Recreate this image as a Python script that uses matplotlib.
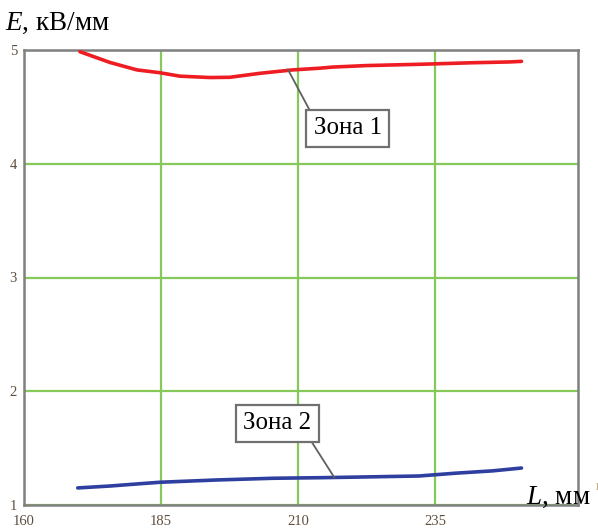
import matplotlib
matplotlib.use("Agg")
import matplotlib.pyplot as plt

# Zone 1 (red) and zone 2 (blue) field strength vs length
L_zone1 = [170.2, 175.7, 180.6, 184.8, 188.4, 193.9, 197.5, 203.0, 209.0, 213.9,
           216.3, 222.4, 232.6, 241.8, 248.5, 250.7]
E_zone1 = [4.985, 4.89, 4.825, 4.80, 4.77, 4.758, 4.76, 4.795, 4.825, 4.84,
           4.85, 4.863, 4.875, 4.888, 4.895, 4.90]

L_zone2 = [169.8, 175.7, 180.6, 184.8, 195.1, 205.4, 213.9, 220.3, 232.0,
           238.8, 245.4, 250.7]
E_zone2 = [1.15, 1.167, 1.185, 1.20, 1.22, 1.235, 1.24, 1.245, 1.255,
           1.28, 1.30, 1.325]

x_ticks = [160, 185, 210, 235]
y_ticks = [1, 2, 3, 4, 5]

plt.rcParams["font.family"] = ["Liberation Serif", "DejaVu Serif"]
plt.rcParams["mathtext.fontset"] = "custom"
plt.rcParams["mathtext.it"] = "Liberation Serif:italic"
plt.rcParams["mathtext.rm"] = "Liberation Serif"

fig = plt.figure(figsize=(5.98, 5.30), dpi=100)
ax = fig.add_axes([24 / 598, 1 - 505 / 530, 554 / 598, 455 / 530])

ax.plot(L_zone1, E_zone1, color="#ee1d23", lw=2.6, solid_capstyle="round", zorder=3)
ax.plot(L_zone2, E_zone2, color="#2f3f9f", lw=2.6, solid_capstyle="round", zorder=3)

ax.set_xlim(160, 261)
ax.set_ylim(1, 5)
ax.set_xticks(x_ticks)
ax.set_yticks(y_ticks)
ax.grid(True, color="#86c95a", lw=1.6)
ax.set_axisbelow(True)
ax.tick_params(length=0, labelsize=10.5, labelcolor="#5e4e3e")
ax.tick_params(axis="x", pad=7)
ax.tick_params(axis="y", pad=5)
for s in ax.spines.values():
    s.set_color("#808080")
    s.set_linewidth(1.8)

box = dict(boxstyle="square,pad=0.3", fc="white", ec="#707070", lw=1.6)
ax.annotate("Зона 1", xy=(208.1, 4.83), xytext=(219.0, 4.31), fontsize=18,
            ha="center", va="center", bbox=box, zorder=5,
            arrowprops=dict(arrowstyle="-", color="#606060", lw=1.3,
                            relpos=(0.0, 1.0), shrinkA=0, shrinkB=0))
ax.annotate("Зона 2", xy=(216.6, 1.24), xytext=(206.2, 1.72), fontsize=18,
            ha="center", va="center", bbox=box, zorder=5,
            arrowprops=dict(arrowstyle="-", color="#606060", lw=1.3,
                            relpos=(0.93, 0.0), shrinkA=0, shrinkB=0))

fig.text(5 / 598, 1 - 30 / 530, "$E$, кВ/мм", fontsize=19.5, ha="left", va="baseline")
fig.text(526 / 598, 1 - 504 / 530, "$L$, мм", fontsize=19.5, ha="left", va="baseline")
fig.text(594 / 598, 1 - 490 / 530, "1", fontsize=7, color="#c8a060", ha="left", va="baseline")

fig.savefig("out.png", dpi=100)
